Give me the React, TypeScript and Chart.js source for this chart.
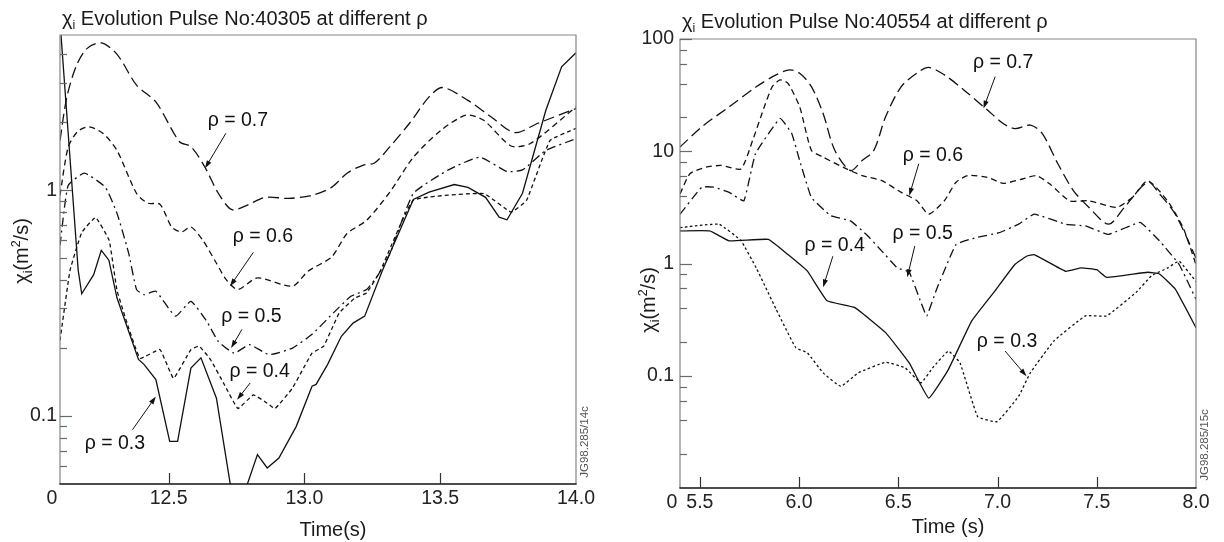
import React, { useEffect, useRef } from "react";
import { Chart, registerables } from "chart.js";
Chart.register(...registerables);

const FONT = '"Liberation Sans", Arial, Helvetica, sans-serif';

// ---------- Left panel: Pulse 40305 ----------
const L_T07 = [12.1, 12.125, 12.16, 12.2, 12.252, 12.31, 12.382, 12.453, 12.54, 12.582, 12.633, 12.683, 12.733, 12.79, 12.855, 12.942, 13.028, 13.1, 13.157, 13.215, 13.258, 13.315, 13.387, 13.459, 13.509, 13.602, 13.688, 13.775, 13.86, 14.0];
const L_X07 = [1.66, 2.58, 3.55, 4.25, 4.49, 4.0, 2.92, 2.46, 1.64, 1.56, 1.27, 0.97, 0.82, 0.86, 0.93, 0.92, 0.95, 1.03, 1.19, 1.29, 1.32, 1.56, 1.98, 2.59, 2.85, 2.5, 2.11, 1.8, 1.98, 2.3];

const L_T06 = [12.1, 12.13, 12.165, 12.207, 12.26, 12.31, 12.382, 12.424, 12.468, 12.511, 12.547, 12.582, 12.626, 12.676, 12.712, 12.755, 12.827, 12.956, 13.013, 13.1, 13.157, 13.229, 13.315, 13.401, 13.502, 13.595, 13.66, 13.761, 13.832, 14.0];
const L_X06 = [0.95, 1.55, 1.82, 1.91, 1.78, 1.5, 0.967, 0.876, 0.867, 0.688, 0.653, 0.688, 0.6, 0.475, 0.402, 0.363, 0.409, 0.376, 0.438, 0.506, 0.643, 0.736, 0.983, 1.4, 1.84, 2.15, 2.04, 1.57, 1.61, 2.34];

const L_T05 = [12.1, 12.13, 12.19, 12.267, 12.31, 12.353, 12.382, 12.41, 12.453, 12.525, 12.582, 12.64, 12.683, 12.741, 12.798, 12.87, 12.956, 13.028, 13.1, 13.171, 13.229, 13.272, 13.315, 13.401, 13.53, 13.645, 13.746, 13.803, 13.889, 14.0];
const L_X05 = [0.57, 1.05, 1.19, 1.03, 0.79, 0.525, 0.363, 0.345, 0.357, 0.277, 0.322, 0.263, 0.214, 0.19, 0.207, 0.187, 0.2, 0.23, 0.281, 0.339, 0.363, 0.423, 0.525, 0.967, 1.23, 1.4, 1.21, 1.23, 1.5, 1.69];

const L_T04 = [12.1, 12.137, 12.18, 12.231, 12.281, 12.31, 12.353, 12.395, 12.468, 12.518, 12.582, 12.612, 12.654, 12.705, 12.755, 12.812, 12.863, 12.892, 12.956, 13.028, 13.071, 13.128, 13.186, 13.229, 13.279, 13.401, 13.66, 13.761, 13.818, 13.904, 14.0];
const L_X04 = [0.216, 0.442, 0.65, 0.757, 0.6, 0.36, 0.245, 0.18, 0.197, 0.147, 0.197, 0.204, 0.178, 0.138, 0.108, 0.124, 0.114, 0.108, 0.133, 0.19, 0.204, 0.286, 0.333, 0.351, 0.438, 0.903, 0.967, 0.8, 0.903, 1.66, 1.88];

const L_T03 = [12.1, 12.167, 12.18, 12.224, 12.252, 12.28, 12.31, 12.353, 12.389, 12.41, 12.453, 12.504, 12.533, 12.582, 12.619, 12.676, 12.733, 12.777, 12.827, 12.863, 12.906, 12.97, 13.028, 13.043, 13.085, 13.136, 13.179, 13.222, 13.286, 13.401, 13.459, 13.552, 13.602, 13.667, 13.717, 13.746, 13.803, 13.889, 13.947, 14.0];
const L_X03 = [5.6, 0.442, 0.348, 0.423, 0.542, 0.49, 0.333, 0.237, 0.178, 0.169, 0.145, 0.0773, 0.0773, 0.163, 0.181, 0.12, 0.045, 0.045, 0.0675, 0.0589, 0.0652, 0.09, 0.1355, 0.138, 0.169, 0.2255, 0.258, 0.277, 0.438, 0.91, 0.98, 1.06, 1.03, 0.93, 0.76, 0.74, 0.97, 2.26, 3.52, 4.06];

const L_X_TICKS = [12.1, 12.5, 13.0, 13.5, 14.0];
const L_X_LABELS = ["0   ", "12.5", "13.0", "13.5", "14.0"];
const L_Y_TICKS = [0.06, 0.07, 0.08, 0.09, 0.1, 0.2, 0.3, 0.4, 0.5, 0.6, 0.7, 0.8, 0.9, 1, 2, 3, 4];
const L_Y_LABELS = ["", "", "", "", "0.1", "", "", "", "", "", "", "", "", "1", "", "", ""];

const L_ANN_TEXT = ["ρ = 0.7", "ρ = 0.6", "ρ = 0.5", "ρ = 0.4", "ρ = 0.3"];
const L_ANN_T = [12.755, 12.847, 12.805, 12.835, 12.302];
const L_ANN_V = [2.04, 0.625, 0.2765, 0.158, 0.0757];
const L_ARR_T0 = [12.711, 12.812, 12.77, 12.8, 12.367];
const L_ARR_V0 = [1.79, 0.531, 0.242, 0.14, 0.087];
const L_ARR_T1 = [12.634, 12.726, 12.73, 12.752, 12.453];
const L_ARR_V1 = [1.25, 0.3755, 0.2, 0.118, 0.122];

// ---------- Right panel: Pulse 40554 ----------
const R_T07 = [5.4, 5.51, 5.648, 5.786, 5.884, 5.953, 6.003, 6.062, 6.121, 6.18, 6.259, 6.318, 6.377, 6.436, 6.515, 6.594, 6.653, 6.732, 6.83, 6.949, 7.028, 7.087, 7.166, 7.225, 7.304, 7.382, 7.461, 7.56, 7.639, 7.757, 7.816, 7.895, 8.0];
const R_X07 = [10.9, 16.5, 24.9, 37.7, 47.9, 53.1, 49.5, 37.7, 21.7, 10.2, 6.73, 8.27, 10.2, 20.3, 37.7, 49.7, 55.8, 47.9, 35.2, 23.3, 17.7, 15.9, 17.1, 14.4, 7.74, 4.47, 3.16, 2.24, 3.16, 5.3, 4.17, 2.76, 1.12];

const R_T06 = [5.4, 5.45, 5.53, 5.608, 5.707, 5.766, 5.825, 5.865, 5.904, 5.944, 6.003, 6.062, 6.121, 6.239, 6.318, 6.417, 6.515, 6.594, 6.653, 6.732, 6.791, 6.85, 6.949, 7.028, 7.126, 7.195, 7.264, 7.363, 7.461, 7.6, 7.679, 7.757, 7.856, 7.935, 8.0];
const R_X06 = [4.16, 6.3, 7.2, 7.47, 6.96, 12.5, 24.9, 37.7, 43.2, 40.3, 24.9, 10.2, 8.87, 6.96, 6.07, 5.47, 4.3, 3.62, 2.75, 3.62, 5.3, 6.07, 5.86, 5.18, 5.66, 6.07, 5.1, 3.62, 3.62, 3.16, 3.88, 5.47, 3.62, 2.09, 0.98];

const R_T05 = [5.4, 5.51, 5.57, 5.648, 5.722, 5.78, 5.904, 5.963, 6.003, 6.062, 6.16, 6.259, 6.338, 6.417, 6.495, 6.555, 6.614, 6.643, 6.693, 6.752, 6.791, 6.89, 7.008, 7.106, 7.185, 7.343, 7.442, 7.56, 7.718, 7.816, 7.915, 8.0];
const R_X05 = [2.75, 4.79, 4.79, 4.3, 3.62, 9.5, 19.6, 14.4, 8.27, 3.88, 2.66, 2.4, 1.82, 1.29, 0.914, 0.836, 0.45, 0.341, 0.59, 1.05, 1.48, 1.7, 1.88, 2.24, 2.75, 2.24, 2.16, 1.82, 2.32, 1.59, 0.98, 0.48];

const R_T04 = [5.4, 5.55, 5.648, 5.845, 5.944, 6.042, 6.141, 6.279, 6.436, 6.555, 6.653, 6.752, 6.87, 6.988, 7.087, 7.146, 7.185, 7.343, 7.422, 7.5, 7.55, 7.757, 7.816, 7.895, 8.0];
const R_X04 = [1.95, 1.95, 1.59, 1.64, 1.2, 0.854, 0.466, 0.406, 0.242, 0.13, 0.0632, 0.1135, 0.308, 0.573, 0.98, 1.16, 1.2, 0.853, 0.914, 0.88, 0.753, 0.836, 0.807, 0.593, 0.268];

const R_T03 = [5.4, 5.596, 5.707, 5.786, 5.884, 5.983, 6.042, 6.121, 6.21, 6.298, 6.436, 6.535, 6.614, 6.673, 6.752, 6.811, 6.9, 6.998, 7.106, 7.165, 7.284, 7.442, 7.55, 7.698, 7.777, 7.856, 7.915, 8.0];
const R_X03 = [2.09, 2.24, 1.6, 0.9, 0.392, 0.178, 0.16, 0.106, 0.0805, 0.106, 0.132, 0.1175, 0.0863, 0.1175, 0.166, 0.13, 0.0432, 0.039, 0.0655, 0.106, 0.204, 0.341, 0.341, 0.553, 0.78, 0.91, 1.05, 0.69];

const R_X_TICKS = [5.4, 5.5, 6.0, 6.5, 7.0, 7.5, 8.0];
const R_X_LABELS = ["0   ", "5.5", "6.0", "6.5", "7.0", "7.5", "8.0"];
const R_Y_TICKS = [0.02, 0.04, 0.06, 0.08, 0.1, 0.2, 0.4, 0.6, 0.8, 1, 2, 4, 6, 8, 10, 20, 40, 60, 80, 100];
const R_Y_LABELS = ["", "", "", "", "0.1", "", "", "", "", "1", "", "", "", "", "10", "", "", "", "", "100"];

const R_ANN_TEXT = ["ρ = 0.7", "ρ = 0.6", "ρ = 0.5", "ρ = 0.4", "ρ = 0.3"];
const R_ANN_T = [7.028, 6.674, 6.623, 6.179, 7.048];
const R_ANN_V = [61.3, 9.17, 1.83, 1.43, 0.201];
const R_ARR_T0 = [6.988, 6.603, 6.583, 6.17, 7.038];
const R_ARR_V0 = [46.2, 7.73, 1.43, 1.16, 0.166];
const R_ARR_T1 = [6.929, 6.555, 6.545, 6.121, 7.146];
const R_ARR_V1 = [24.0, 4.01, 0.754, 0.613, 0.099];

type Run = { s: string; k?: number; dy?: number };

function drawRuns(ctx: CanvasRenderingContext2D, runs: Run[], x: number, y: number, size: number, center: boolean) {
  const widths = runs.map((r) => {
    ctx.font = `${size * (r.k ?? 1)}px ${FONT}`;
    return ctx.measureText(r.s).width;
  });
  const total = widths.reduce((a, b) => a + b, 0);
  let cx = center ? x - total / 2 : x;
  runs.forEach((r, i) => {
    ctx.font = `${size * (r.k ?? 1)}px ${FONT}`;
    ctx.fillText(r.s, cx, y + (r.dy ?? 0) * size);
    cx += widths[i];
  });
}

type Series = { t: number[]; v: number[]; dash: number[]; tension: number };
type PanelDef = {
  left: number;
  title: string;
  titleX: number;
  titleY: number;
  xTitle: string;
  xTitleX: number;
  xTitleY: number;
  yTitleX: number;
  yTitleY: number;
  code: string;
  codeX: number;
  codeY: number;
  padTop: number;
  padRight: number;
  yAxisW: number;
  xAxisH: number;
  yPad: number;
  xMin: number;
  xMax: number;
  yMin: number;
  yMax: number;
  xTicks: number[];
  xLabels: string[];
  yTicks: number[];
  yLabels: string[];
  series: Series[];
  ann: { text: string[]; t: number[]; v: number[]; t0: number[]; v0: number[]; t1: number[]; v1: number[] };
};

const DASH_LONG = [11, 5];
const DASH_MED = [6, 4];
const DASH_DOT = [9, 4, 2, 4];
const DASH_SHORT = [4, 3];
const DASH_DOTTED = [2.5, 2.5];

const LEFT: PanelDef = {
  left: 0,
  title: " Evolution Pulse No:40305 at different ρ",
  titleX: 62,
  titleY: 25,
  xTitle: "Time(s)",
  xTitleX: 333,
  xTitleY: 536,
  yTitleX: 21,
  yTitleY: 251,
  code: "JG98.285/14c",
  codeX: 585,
  codeY: 442,
  padTop: 35,
  padRight: 36,
  yAxisW: 60,
  xAxisH: 58,
  yPad: 3,
  xMin: 12.1,
  xMax: 14.0,
  yMin: 0.05,
  yMax: 4.87,
  xTicks: L_X_TICKS,
  xLabels: L_X_LABELS,
  yTicks: L_Y_TICKS,
  yLabels: L_Y_LABELS,
  series: [
    { t: L_T07, v: L_X07, dash: DASH_LONG, tension: 0.3 },
    { t: L_T06, v: L_X06, dash: DASH_MED, tension: 0.25 },
    { t: L_T05, v: L_X05, dash: DASH_DOT, tension: 0.15 },
    { t: L_T04, v: L_X04, dash: DASH_SHORT, tension: 0.1 },
    { t: L_T03, v: L_X03, dash: [], tension: 0 },
  ],
  ann: { text: L_ANN_TEXT, t: L_ANN_T, v: L_ANN_V, t0: L_ARR_T0, v0: L_ARR_V0, t1: L_ARR_T1, v1: L_ARR_V1 },
};

const RIGHT: PanelDef = {
  left: 612,
  title: " Evolution Pulse No:40554 at different ρ",
  titleX: 70,
  titleY: 28,
  xTitle: "Time (s)",
  xTitleX: 336,
  xTitleY: 533,
  yTitleX: 36,
  yTitleY: 300,
  code: "JG98.285/15c",
  codeX: 593,
  codeY: 445,
  padTop: 39,
  padRight: 28,
  yAxisW: 68,
  xAxisH: 54,
  yPad: 6,
  xMin: 5.4,
  xMax: 8.0,
  yMin: 0.01,
  yMax: 100,
  xTicks: R_X_TICKS,
  xLabels: R_X_LABELS,
  yTicks: R_Y_TICKS,
  yLabels: R_Y_LABELS,
  series: [
    { t: R_T07, v: R_X07, dash: DASH_LONG, tension: 0.3 },
    { t: R_T06, v: R_X06, dash: DASH_MED, tension: 0.2 },
    { t: R_T05, v: R_X05, dash: DASH_DOT, tension: 0.1 },
    { t: R_T04, v: R_X04, dash: [], tension: 0.1 },
    { t: R_T03, v: R_X03, dash: DASH_DOTTED, tension: 0.1 },
  ],
  ann: { text: R_ANN_TEXT, t: R_ANN_T, v: R_ANN_V, t0: R_ARR_T0, v0: R_ARR_V0, t1: R_ARR_T1, v1: R_ARR_V1 },
};

function decorPlugin(p: PanelDef) {
  return {
    id: "decor",
    afterDraw(chart: any) {
      const { ctx, chartArea: a, scales } = chart;
      const x = scales.x;
      const y = scales.y;
      ctx.save();
      // frame
      ctx.setLineDash([]);
      ctx.lineWidth = 1.2;
      ctx.strokeStyle = "#858585";
      ctx.beginPath();
      ctx.moveTo(a.left, a.bottom);
      ctx.lineTo(a.left, a.top);
      ctx.lineTo(a.right, a.top);
      ctx.lineTo(a.right, a.bottom);
      ctx.stroke();
      ctx.strokeStyle = "#111";
      ctx.lineWidth = 1.6;
      ctx.beginPath();
      ctx.moveTo(a.left - 0.6, a.bottom);
      ctx.lineTo(a.right + 0.6, a.bottom);
      ctx.stroke();
      // y ticks (inward)
      ctx.lineWidth = 1.2;
      ctx.strokeStyle = "#5f715f";
      y.ticks.forEach((tk: any) => {
        const py = Math.round(y.getPixelForValue(tk.value)) + 0.5;
        const len = tk.label ? 12 : 7;
        ctx.beginPath();
        ctx.moveTo(a.left, py);
        ctx.lineTo(a.left + len, py);
        ctx.stroke();
      });
      // x ticks (inward)
      ctx.strokeStyle = "#333";
      x.ticks.forEach((tk: any) => {
        if (tk.value <= p.xMin || tk.value >= p.xMax) return;
        const px = Math.round(x.getPixelForValue(tk.value)) + 0.5;
        ctx.beginPath();
        ctx.moveTo(px, a.bottom);
        ctx.lineTo(px, a.bottom - 11);
        ctx.stroke();
      });
      // annotations
      ctx.fillStyle = "#111";
      ctx.strokeStyle = "#111";
      ctx.lineWidth = 1;
      ctx.textAlign = "center";
      ctx.textBaseline = "middle";
      ctx.font = `19.5px ${FONT}`;
      p.ann.text.forEach((txt, i) => {
        ctx.fillText(txt, x.getPixelForValue(p.ann.t[i]), y.getPixelForValue(p.ann.v[i]));
        const x0 = x.getPixelForValue(p.ann.t0[i]);
        const y0 = y.getPixelForValue(p.ann.v0[i]);
        const x1 = x.getPixelForValue(p.ann.t1[i]);
        const y1 = y.getPixelForValue(p.ann.v1[i]);
        const ang = Math.atan2(y1 - y0, x1 - x0);
        const hl = 8;
        const hw = 2.6;
        ctx.beginPath();
        ctx.moveTo(x0, y0);
        ctx.lineTo(x1 - Math.cos(ang) * hl * 0.7, y1 - Math.sin(ang) * hl * 0.7);
        ctx.stroke();
        ctx.beginPath();
        ctx.moveTo(x1, y1);
        ctx.lineTo(x1 - Math.cos(ang) * hl - Math.sin(ang) * hw, y1 - Math.sin(ang) * hl + Math.cos(ang) * hw);
        ctx.lineTo(x1 - Math.cos(ang) * hl + Math.sin(ang) * hw, y1 - Math.sin(ang) * hl - Math.cos(ang) * hw);
        ctx.closePath();
        ctx.fill();
      });
      // title
      ctx.textAlign = "left";
      ctx.textBaseline = "alphabetic";
      ctx.fillStyle = "#1a1a1a";
      drawRuns(ctx, [{ s: "χ" }, { s: "i", k: 0.62, dy: 0.22 }, { s: p.title }], p.titleX, p.titleY, 20, false);
      // x title
      drawRuns(ctx, [{ s: p.xTitle }], p.xTitleX, p.xTitleY, 20, true);
      // y title rotated
      ctx.save();
      ctx.translate(p.yTitleX, p.yTitleY);
      ctx.rotate(-Math.PI / 2);
      drawRuns(
        ctx,
        [{ s: "χ" }, { s: "i", k: 0.62, dy: 0.22 }, { s: "(m" }, { s: "2", k: 0.62, dy: -0.42 }, { s: "/s)" }],
        0,
        7,
        20,
        true
      );
      ctx.restore();
      // figure code
      ctx.save();
      ctx.translate(p.codeX, p.codeY);
      ctx.rotate(-Math.PI / 2);
      ctx.fillStyle = "#555";
      ctx.textAlign = "center";
      ctx.textBaseline = "middle";
      ctx.font = `11.5px ${FONT}`;
      ctx.fillText(p.code, 0, 0);
      ctx.restore();
      ctx.restore();
    },
  };
}

function makeConfig(p: PanelDef): any {
  return {
    type: "line",
    data: {
      datasets: p.series.map((s) => ({
        data: s.t.map((t, i) => ({ x: t, y: s.v[i] })),
        borderColor: "#111",
        borderWidth: 1.3,
        borderDash: s.dash,
        pointRadius: 0,
        tension: s.tension,
        fill: false,
      })),
    },
    options: {
      animation: false,
      responsive: false,
      devicePixelRatio: 1,
      events: [],
      layout: { padding: { left: 0, top: p.padTop, right: p.padRight, bottom: 0 } },
      plugins: { legend: { display: false }, tooltip: { enabled: false }, title: { display: false } },
      scales: {
        x: {
          type: "linear",
          min: p.xMin,
          max: p.xMax,
          grid: { display: false, drawTicks: false },
          border: { display: false },
          afterBuildTicks: (s: any) => {
            s.ticks = p.xTicks.map((v) => ({ value: v }));
          },
          afterFit: (s: any) => {
            s.height = p.xAxisH;
          },
          ticks: {
            autoSkip: false,
            maxRotation: 0,
            minRotation: 0,
            padding: 3,
            color: "#222",
            font: { family: FONT, size: 19.5 },
            callback: (_v: any, i: number) => p.xLabels[i] ?? "",
          },
        },
        y: {
          type: "logarithmic",
          min: p.yMin,
          max: p.yMax,
          grid: { display: false, drawTicks: false },
          border: { display: false },
          afterBuildTicks: (s: any) => {
            s.ticks = p.yTicks.map((v) => ({ value: v }));
          },
          afterFit: (s: any) => {
            s.width = p.yAxisW;
          },
          ticks: {
            autoSkip: false,
            padding: p.yPad,
            color: "#222",
            font: { family: FONT, size: 19.5 },
            callback: (_v: any, i: number) => p.yLabels[i] ?? "",
          },
        },
      },
    },
    plugins: [decorPlugin(p)],
  };
}

function Panel({ p }: { p: PanelDef }) {
  const ref = useRef<HTMLCanvasElement>(null);
  useEffect(() => {
    const chart = new Chart(ref.current as HTMLCanvasElement, makeConfig(p));
    return () => chart.destroy();
  }, [p]);
  return (
    <canvas
      ref={ref}
      width={612}
      height={542}
      style={{ position: "absolute", left: p.left, top: 0, width: 612, height: 542, display: "block" }}
    />
  );
}

export default function App() {
  return (
    <div style={{ position: "fixed", left: 0, top: 0, width: 1224, height: 542, background: "#fff", overflow: "hidden" }}>
      <Panel p={LEFT} />
      <Panel p={RIGHT} />
    </div>
  );
}
